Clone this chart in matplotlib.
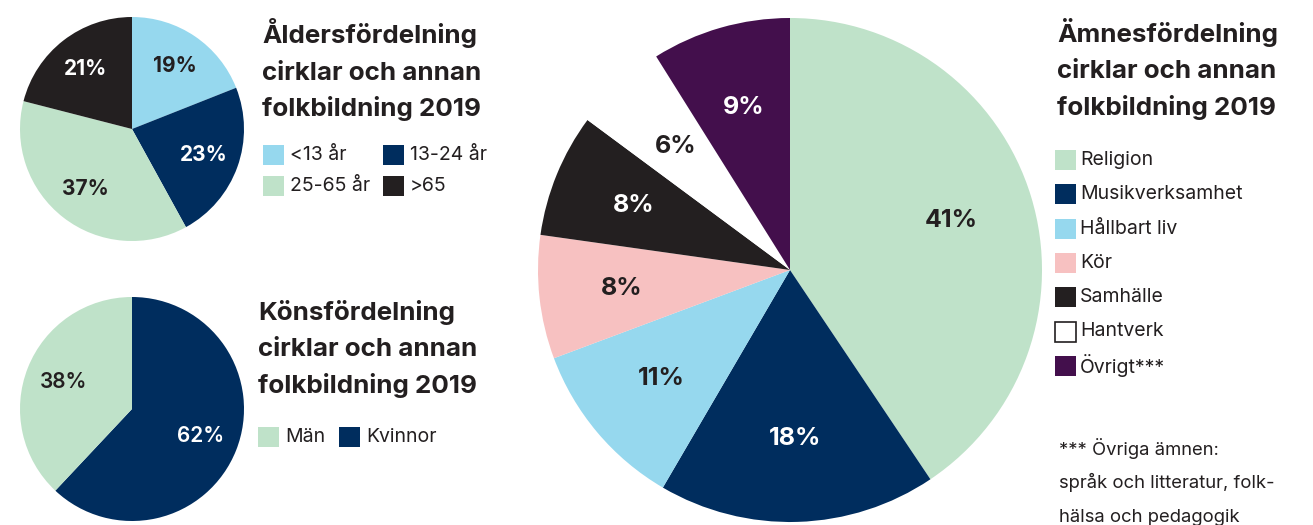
import matplotlib
matplotlib.use("Agg")
import matplotlib.pyplot as plt
from matplotlib.patches import Rectangle

# ---- data ----
age_labels = ["<13 år", "13-24 år", "25-65 år", ">65"]
age_values = [19, 23, 37, 21]
gender_labels = ["Kvinnor", "Män"]
gender_values = [62, 38]
subject_labels = ["Religion", "Musikverksamhet", "Hållbart liv", "Kör",
                  "Samhälle", "Hantverk", "Övrigt***"]
subject_values = [41, 18, 11, 8, 8, 6, 9]

# ---- styles ----
GREEN = "#bfe2c9"
NAVY = "#002d5e"
BLUE = "#96d8ee"
PINK = "#f7c1c1"
DARK = "#231f20"
WHITE = "#ffffff"
PURPLE = "#430f4c"

age_colors = [BLUE, NAVY, GREEN, DARK]
age_txt = [DARK, WHITE, DARK, WHITE]
gender_colors = [NAVY, GREEN]
gender_txt = [WHITE, DARK]
subject_colors = [GREEN, NAVY, BLUE, PINK, DARK, WHITE, PURPLE]
subject_txt = [DARK, WHITE, DARK, DARK, WHITE, DARK, WHITE]

FONT = "Inter"
plt.rcParams["font.family"] = [FONT, "DejaVu Sans"]

W, H = 1313, 525
fig = plt.figure(figsize=(W / 100, H / 100), dpi=100)


def px_axes(cx, cy, r):
    return fig.add_axes([(cx - r) / W, (H - cy - r) / H, 2 * r / W, 2 * r / H])


def draw_pie(ax, values, colors, txtcolors, pctdist, fs, weight):
    wedges, texts, autotexts = ax.pie(
        values, colors=colors, startangle=90, counterclock=False,
        autopct=lambda p: "", pctdistance=pctdist,
        wedgeprops=dict(linewidth=0), radius=1)
    for at, v, c in zip(autotexts, values, txtcolors):
        at.set_text(f"{v}%")
        at.set_color(c)
        at.set_fontsize(fs)
        at.set_fontweight(weight)
    ax.set_xlim(-1, 1)
    ax.set_ylim(-1, 1)
    ax.set_aspect("equal")
    ax.axis("off")


def ftext(x, y, s, **kw):
    fig.text(x / W, 1 - y / H, s, **kw)


def title(x, y0, lines, step=36.5):
    for i, ln in enumerate(lines):
        ftext(x, y0 + i * step, ln, fontsize=18.7, fontweight="bold",
              color=DARK, va="baseline", ha="left")


def swatch(x, yc, color, w=21, h=20, edge=None):
    rect = Rectangle((x / W, 1 - (yc + h / 2) / H), w / W, h / H,
                     transform=fig.transFigure, facecolor=color,
                     edgecolor=edge if edge else color, linewidth=1.2 if edge else 0)
    fig.patches.append(rect)


def legend_item(x, yc, color, label, edge=None, gap=6):
    swatch(x, yc, color, edge=edge)
    ftext(x + 21 + gap, yc, label, fontsize=14, color=DARK, va="center", ha="left")


# ---- age pie ----
ax1 = px_axes(132, 129, 112)
draw_pie(ax1, age_values, age_colors, age_txt, 0.68, 15, "bold")
title(262, 43, ["Åldersfördelning", "cirklar och annan", "folkbildning 2019"])
legend_item(263, 155, age_colors[0], age_labels[0])
legend_item(383, 155, age_colors[1], age_labels[1])
legend_item(263, 186, age_colors[2], age_labels[2])
legend_item(383, 186, age_colors[3], age_labels[3])

# ---- gender pie ----
ax2 = px_axes(132, 409, 112)
draw_pie(ax2, gender_values, gender_colors, gender_txt, 0.66, 15, "semibold")
title(258, 320, ["Könsfördelning", "cirklar och annan", "folkbildning 2019"])
legend_item(258, 437, gender_colors[1], gender_labels[1])
legend_item(339, 437, gender_colors[0], gender_labels[0])

# ---- subject pie ----
ax3 = px_axes(790, 270, 252)
draw_pie(ax3, subject_values, subject_colors, subject_txt, 0.67, 18, "bold")
title(1057, 42, ["Ämnesfördelning", "cirklar och annan", "folkbildning 2019"])
for i, (lab, col) in enumerate(zip(subject_labels, subject_colors)):
    legend_item(1055, 160 + i * 34.3, col, lab,
                edge=DARK if col == WHITE else None, gap=4)

for i, ln in enumerate(["*** Övriga ämnen:", "språk och litteratur, folk-",
                        "hälsa och pedagogik"]):
    ftext(1059, 455 + i * 33.5, ln, fontsize=13.3, color=DARK,
          va="baseline", ha="left")

fig.savefig("out.png", dpi=100)
